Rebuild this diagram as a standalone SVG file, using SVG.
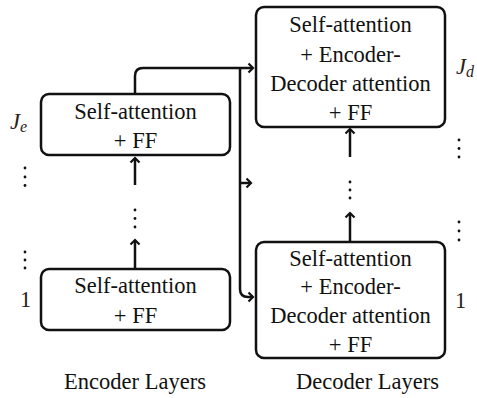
<svg xmlns="http://www.w3.org/2000/svg" width="477" height="398" viewBox="0 0 477 398">
<style>
  .box{fill:#fff;stroke:#111;stroke-width:2.5}
  .t{font-family:"Liberation Serif",serif;font-size:22.5px;fill:#111;text-anchor:middle}
  .lbl{font-family:"Liberation Serif",serif;font-size:22.5px;fill:#2a2118}
  .c{fill:none;stroke:#111;stroke-width:2.5}
  .dot{fill:#111}
</style>
<defs>
  <marker id="ah" viewBox="-6 -6 8 12" markerWidth="8" markerHeight="12" refX="0" refY="0" orient="auto" markerUnits="userSpaceOnUse">
    <path d="M-4.5,-4.5 L0,0 L-4.5,4.5" fill="none" stroke="#111" stroke-width="2.2"/>
  </marker>
</defs>
<g id="connectors">
  <path class="c" d="M135,94 V76 Q135,68 143,68 H253" marker-end="url(#ah)"/>
  <path class="c" d="M240,68 V289 Q240,297 248,297 H253" marker-end="url(#ah)"/>
  <path class="c" d="M240,183 H251" marker-end="url(#ah)"/>
  <path class="c" d="M135,269 V240" marker-end="url(#ah)"/>
  <path class="c" d="M135,185 V158" marker-end="url(#ah)"/>
  <path class="c" d="M350,157 V129" marker-end="url(#ah)"/>
  <path class="c" d="M350,242 V213" marker-end="url(#ah)"/>
</g>
<g id="enc-top">
  <rect class="box" x="41" y="94" width="189" height="61" rx="8"/>
  <text class="t" x="135.5" y="119">Self-attention</text>
  <text class="t" x="135.5" y="148">+ FF</text>
</g>
<g id="enc-bottom">
  <rect class="box" x="41" y="269" width="189" height="61" rx="8"/>
  <text class="t" x="135.5" y="293">Self-attention</text>
  <text class="t" x="135.5" y="323">+ FF</text>
</g>
<g id="dec-top">
  <rect class="box" x="256" y="7" width="189" height="120" rx="8"/>
  <text class="t" x="350.5" y="32">Self-attention</text>
  <text class="t" x="350.5" y="62">+ Encoder-</text>
  <text class="t" x="350.5" y="90.5">Decoder attention</text>
  <text class="t" x="350.5" y="119.5">+ FF</text>
</g>
<g id="dec-bottom">
  <rect class="box" x="256" y="242" width="189" height="116" rx="8"/>
  <text class="t" x="350.5" y="266">Self-attention</text>
  <text class="t" x="350.5" y="294">+ Encoder-</text>
  <text class="t" x="350.5" y="323">Decoder attention</text>
  <text class="t" x="350.5" y="352">+ FF</text>
</g>
<g id="dots">
  <circle class="dot" cx="135" cy="210" r="1.4"/>
  <circle class="dot" cx="135" cy="218.5" r="1.4"/>
  <circle class="dot" cx="135" cy="227" r="1.4"/>
  <circle class="dot" cx="350" cy="182" r="1.4"/>
  <circle class="dot" cx="350" cy="190" r="1.4"/>
  <circle class="dot" cx="350" cy="198" r="1.4"/>
  <circle class="dot" cx="25" cy="168" r="1.4"/>
  <circle class="dot" cx="25" cy="177" r="1.4"/>
  <circle class="dot" cx="25" cy="185.5" r="1.4"/>
  <circle class="dot" cx="25" cy="252" r="1.4"/>
  <circle class="dot" cx="25" cy="260" r="1.4"/>
  <circle class="dot" cx="25" cy="268" r="1.4"/>
  <circle class="dot" cx="459" cy="140" r="1.4"/>
  <circle class="dot" cx="459" cy="148.5" r="1.4"/>
  <circle class="dot" cx="459" cy="157" r="1.4"/>
  <circle class="dot" cx="459" cy="222" r="1.4"/>
  <circle class="dot" cx="459" cy="231" r="1.4"/>
  <circle class="dot" cx="459" cy="240" r="1.4"/>
</g>
<g id="labels">
  <text class="lbl" x="10" y="129"><tspan font-style="italic">J</tspan><tspan font-style="italic" font-size="16" dy="3">e</tspan></text>
  <text class="lbl" x="456" y="74"><tspan font-style="italic">J</tspan><tspan font-style="italic" font-size="16" dy="3">d</tspan></text>
  <text class="lbl" x="20" y="307">1</text>
  <text class="lbl" x="455" y="308">1</text>
  <text class="t" x="135" y="389">Encoder Layers</text>
  <text class="t" x="367.5" y="389">Decoder Layers</text>
</g>
</svg>
